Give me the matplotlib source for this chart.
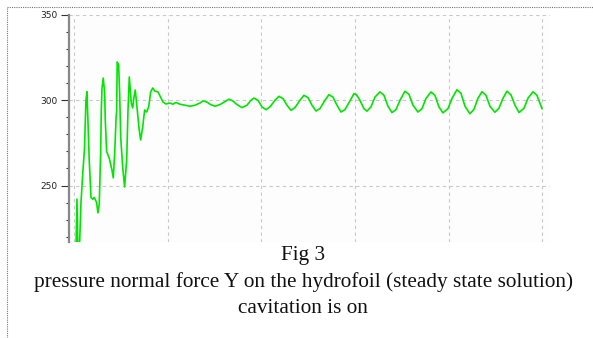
import matplotlib
matplotlib.use("Agg")
import matplotlib.pyplot as plt
from matplotlib.lines import Line2D

# Zeitachse (Iterationen) und Normalkraft Y
t = [2.1, 3.2, 4.3, 5.9, 7.5, 9.6, 11.2, 12.8, 13.9, 16.3, 18.2, 20.0, 21.7,
     24.2, 25.6, 27.0, 28.5, 29.2, 29.9, 31.3, 32.8, 33.4, 34.9, 37.7, 40.6,
     42.0, 43.5, 44.9, 45.6, 46.2, 47.7, 48.8, 49.9, 52.0, 54.1, 56.3, 57.7,
     59.1, 61.2, 62.7, 64.1, 65.5, 67.6, 69.7, 71.2, 73.4, 75.5, 77.6, 79.8,
     81.9, 84.1, 86.2, 89.7, 92.4, 95.1, 98.3, 102.5, 105.7, 108.9, 113.2,
     118.5, 123.9, 129.2, 134.6, 137.8, 142.0, 145.2, 150.6, 155.9, 162.3,
     165.5, 169.8, 174.1, 179.4, 184.8, 189.0, 192.2, 196.5, 200.8, 205.1,
     209.3, 214.7, 218.9, 223.2, 227.5, 231.8, 236.0, 241.4, 245.6, 249.9,
     254.2, 258.5, 262.7, 268.1, 272.3, 276.6, 280.9, 285.2, 289.4, 294.8,
     299.0, 301.7, 305.4, 309.7, 312.9, 317.2, 321.5, 326.8, 331.1, 335.4,
     339.6, 343.9, 348.2, 353.5, 357.8, 362.1, 367.4, 371.7, 375.9, 381.3,
     385.5, 389.8, 394.1, 399.4, 403.7, 409.0, 413.3, 417.6, 422.9, 427.2,
     431.5, 435.7, 440.0, 444.3, 449.6, 453.9, 458.2, 462.4, 466.7, 471.0,
     475.3, 480.6, 484.9, 490.2, 494.5, 499.8]
force_y = [210, 242, 210, 214, 240, 259, 271, 300, 305, 265, 243, 242, 243,
           240, 234, 239, 269, 294, 307, 313, 304, 289, 270, 266, 259,
           254.5, 269, 288.5, 294, 322.4, 320.7, 304, 278.5, 261, 249.2, 265, 294,
           313.7, 298.4, 295.5, 301.9, 306, 294.3, 282.6, 276.7, 284.3, 294.3,
           293.1, 296.1, 304.9, 307.2, 305.5, 304.9, 302.0, 299.0, 297.8, 298.4,
           297.7, 298.7, 297.7, 297.1, 296.5, 297.1, 298.4, 299.6, 299.0, 297.7,
           296.5, 297.5, 299.6, 300.6, 299.6, 297.5, 295.7, 297.1, 300.0, 301.3,
           300.0, 296.1, 294.5, 296.1, 300.0, 302.3, 301.0, 297.1, 294.1, 295.7,
           300.0, 302.9, 301.6, 297.1, 293.7, 295.1, 300.0, 303.3, 301.9, 297.1,
           293.1, 294.5, 299.6, 303.9, 303.3, 300.0, 295.1, 293.6, 296.1, 301.9,
           304.9, 302.9, 296.5, 292.8, 294.5, 300.0, 305.3, 303.5, 297.1, 293.1,
           295.1, 301.0, 304.9, 302.9, 296.1, 292.6, 295.1, 301.0, 306.2, 304.1,
           296.5, 292.1, 294.7, 301.2, 305.0, 302.9, 296.5, 293.0, 295.3, 301.2,
           305.3, 303.2, 297.1, 292.8, 295.3, 301.2, 305.0, 302.9, 295.1]

y_major = [250, 300, 350]
x_grid = [0, 100, 200, 300, 400, 500]
caption = ["Fig 3",
           "pressure normal force Y on the hydrofoil (steady state solution)",
           "cavitation is on"]

fig = plt.figure(figsize=(5.93, 3.38), dpi=100)
ax = fig.add_axes([69 / 593, 1 - 242 / 338, 481 / 593, 227 / 338])
ax.set_facecolor("#fdfdfd")

ax.plot(t, force_y, color="#00e600", linewidth=1.2, zorder=3)

ax.set_xlim(-5.3, 508.4)
ax.set_ylim(216.9, 350)
ax.set_xticks(x_grid)
ax.set_yticks(y_major)
ax.set_yticks(range(220, 350, 10), minor=True)
ax.tick_params(axis="x", length=0, labelbottom=False)
ax.tick_params(axis="y", which="major", length=6, width=0.8, color="#333333",
               labelsize=6.5, labelcolor="#222222", pad=2)
ax.tick_params(axis="y", which="minor", length=2.5, width=0.8, color="#333333")
ax.grid(True, which="major", color="#c8c8c8", linestyle=(0, (3, 3)), linewidth=0.8)

for side in ["top", "right", "bottom"]:
    ax.spines[side].set_visible(False)
ax.spines["left"].set_color("#888888")
ax.spines["left"].set_linewidth(1.6)

# gepunkteter Rahmen links und oben
fig.add_artist(Line2D([7 / 593, 7 / 593], [0, 1 - 7 / 338], transform=fig.transFigure,
                      color="#777777", linestyle=(0, (1, 1)), linewidth=0.8))
fig.add_artist(Line2D([7 / 593, 1], [1 - 7 / 338, 1 - 7 / 338], transform=fig.transFigure,
                      color="#777777", linestyle=(0, (1, 1)), linewidth=0.8))

for line, ypx in zip(caption, [260, 287, 313]):
    fig.text(303 / 593, 1 - ypx / 338, line, ha="center", va="baseline",
             family="Liberation Serif", fontsize=15.3, color="#111111")

fig.savefig("out.png", dpi=100)
